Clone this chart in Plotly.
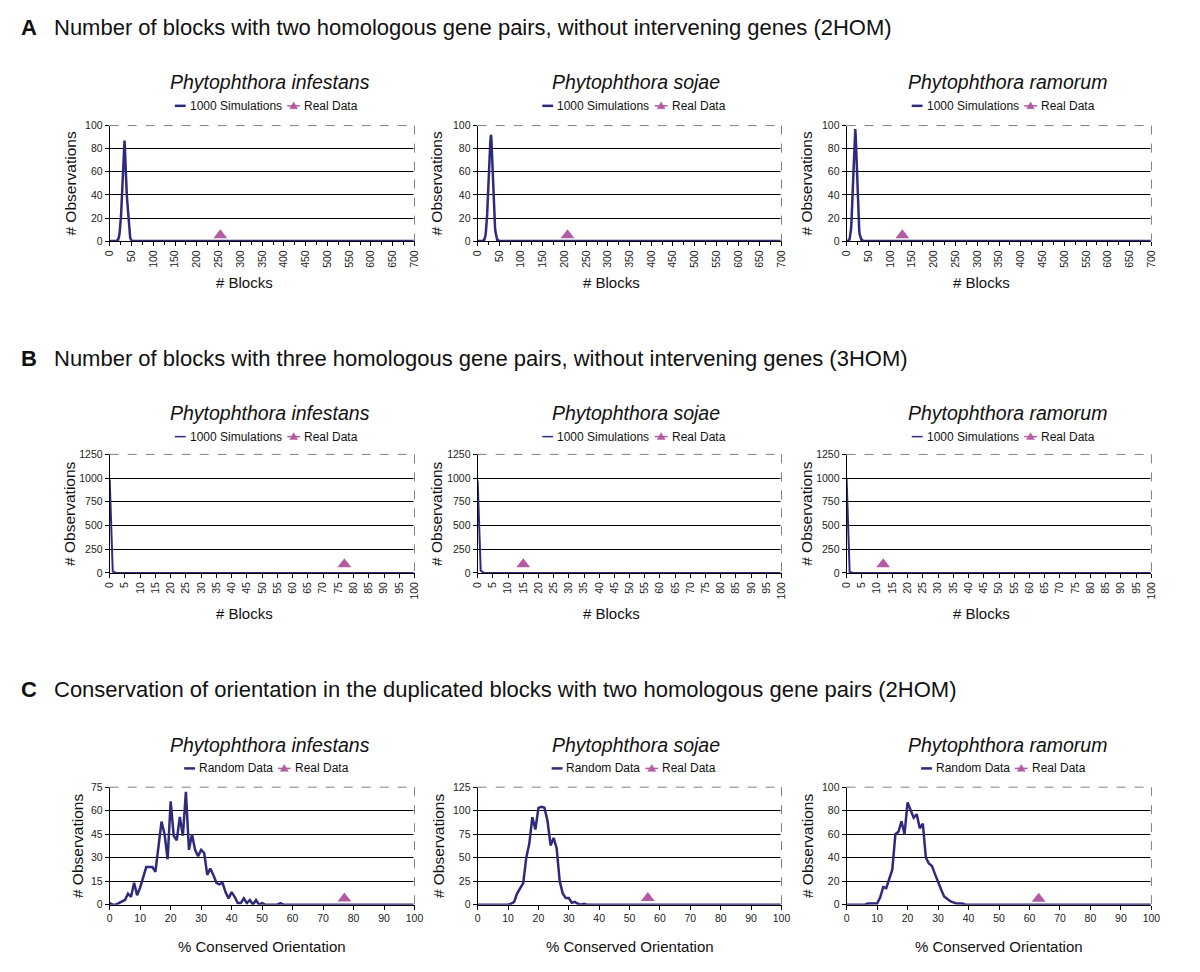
import plotly.graph_objects as go

# page body has an 8px margin; figure is sized so that it fits the 1200x972 window
OFF = 8
W, H = 1200 - 2 * OFF, 972 - 2 * OFF

# ---------------- text ----------------
section_letters = ["A", "B", "C"]
section_titles = [
    "Number of blocks with two homologous gene pairs, without intervening genes (2HOM)",
    "Number of blocks with three homologous gene pairs, without intervening genes (3HOM)",
    "Conservation of orientation in the duplicated blocks with two homologous gene pairs (2HOM)",
]
species = ["Phytophthora infestans", "Phytophthora sojae", "Phytophthora ramorum"]
sim_names = ["1000 Simulations", "1000 Simulations", "Random Data"]
real_name = "Real Data"
x_titles = ["# Blocks", "# Blocks", "% Conserved Orientation"]
y_title = "# Observations"

# ---------------- data ----------------
# A: 2HOM, number of blocks (0..700)
a_blocks = list(range(0, 701))
a_inf_start = 18
a_inf_counts = [1, 1, 2, 3, 5, 8, 11, 16, 22, 30, 38, 47, 57, 66, 75, 82, 87, 80, 65, 52,
                48, 42, 36, 30, 23, 17, 12, 8, 5, 3, 2, 1, 1]
a_soj_start = 14
a_soj_counts = [1, 1, 2, 3, 5, 8, 12, 17, 24, 33, 44, 56, 62, 68, 76, 85, 90, 92, 85, 74,
                62, 50, 40, 31, 23, 17, 12, 8, 5, 3, 2, 1, 1, 1]
a_ram_start = 5
a_ram_counts = [1, 1, 2, 4, 6, 10, 15, 22, 31, 41, 52, 62, 70, 82, 92, 97, 90, 78, 66, 53,
                41, 30, 21, 14, 9, 6, 4, 3, 2, 1, 1, 1]
a_real_x = [254, 207, 128]
a_real_y = [5, 5, 5]

# B: 3HOM, number of blocks (0..100)
b_blocks = list(range(0, 101))
b_inf_counts = [985, 14, 1]
b_soj_counts = [975, 24, 1]
b_ram_counts = [990, 9, 1]
b_real_x = [77, 15, 12]
b_real_y = [90, 90, 90]

# C: % conserved orientation (0..100)
c_pct = list(range(0, 101))
c_inf_counts = [1, 0, 0, 1, 2, 3, 7, 5, 14, 6, 11, 17, 24, 24, 24, 21, 36, 53, 45, 29,
                66, 44, 41, 56, 44, 72, 35, 45, 35, 31, 35, 33, 19, 23, 19, 14, 13, 14, 8, 4,
                8, 5, 1, 1, 4, 1, 3, 0, 3, 0, 1, 0, 0, 0, 0, 0, 1]
c_soj_counts = [0, 0, 0, 0, 0, 0, 0, 0, 0, 0, 0, 1, 3, 12, 17, 23, 50, 65, 93, 80,
                103, 104, 103, 89, 63, 71, 60, 25, 12, 7, 7, 2, 3, 1, 0, 1]
c_ram_counts = [0, 0, 0, 0, 0, 0, 0, 1, 1, 1, 1, 6, 15, 14, 23, 30, 60, 62, 71, 60,
                87, 80, 74, 77, 65, 69, 40, 35, 33, 26, 19, 13, 7, 5, 3, 2, 1, 1, 1]
c_real_x = [77, 56, 63]
c_real_y = [4, 7, 5]

# axis settings
x_ranges = [[0, 700], [0, 100], [0, 100]]
x_dticks = [50, 5, 10]
y_ranges = [[[0, 100]] * 3, [[0, 1250]] * 3, [[0, 75], [0, 125], [0, 100]]]
y_dticks = [[20, 20, 20], [250, 250, 250], [15, 25, 20]]


def pad(cats, start, seg):
    full = [0] * len(cats)
    for i, v in enumerate(seg):
        full[start + i] = v
    return full


sim_x = [a_blocks, b_blocks, c_pct]
sim_y = [
    [pad(a_blocks, a_inf_start, a_inf_counts), pad(a_blocks, a_soj_start, a_soj_counts),
     pad(a_blocks, a_ram_start, a_ram_counts)],
    [pad(b_blocks, 0, b_inf_counts), pad(b_blocks, 0, b_soj_counts), pad(b_blocks, 0, b_ram_counts)],
    [pad(c_pct, 0, c_inf_counts), pad(c_pct, 0, c_soj_counts), pad(c_pct, 0, c_ram_counts)],
]
real_x = [a_real_x, b_real_x, c_real_x]
real_y = [a_real_y, b_real_y, c_real_y]

# ---------------- layout geometry (window pixels) ----------------
cols_px = [(104, 413), (477, 785), (851, 1160)]
rows_px = [(121, 238), (454, 574), (791, 910)]
section_y = [22, 357, 692]
species_y = [77, 412, 748]
legend_y = [101, 436, 772]
xtitle_y = [280, 615, 952]
xtitle_dx = [-18, -18, 0]
ytitle_x = [[64, 435, 810], [63, 435, 810], [72, 438, 812]]
species_x = [266, 638, 1014]
# approximate text widths (px) of legend labels at 12px
label_w = {"1000 Simulations": 93, "Random Data": 74, "Real Data": 53}

SIM_COLOR = "#2E2A7C"
REAL_COLOR = "#B25CA2"
FONT = "Liberation Sans, Arial, sans-serif"


def px_x(p):
    return (p - OFF) / W


def px_y(p):
    return 1 - (p - OFF) / H


fig = go.Figure()
annotations, shapes = [], []
layout = dict(
    width=W, height=H, margin=dict(l=0, r=0, t=0, b=0),
    paper_bgcolor="white", plot_bgcolor="white",
    font=dict(family=FONT, color="#111"), showlegend=False,
)


def hline(x0, x1, y, color, width, dash="solid"):
    shapes.append(dict(type="line", xref="paper", yref="paper",
                       x0=px_x(x0), y0=px_y(y), x1=px_x(x1), y1=px_y(y),
                       line=dict(color=color, width=width, dash=dash), layer="above"))


def text(t, x, y, size, xanchor="left", angle=0, bold=False, italic=False):
    if bold:
        t = "<b>%s</b>" % t
    if italic:
        t = "<i>%s</i>" % t
    annotations.append(dict(text=t, x=px_x(x), y=px_y(y), xref="paper", yref="paper",
                            xanchor=xanchor, yanchor="middle", showarrow=False,
                            textangle=angle, borderpad=0,
                            font=dict(size=size, family=FONT, color="#111")))


for r in range(3):
    text(section_letters[r], 13, section_y[r], 22, bold=True)
    text(section_titles[r], 47, section_y[r], 22)
    for c in range(3):
        k = r * 3 + c + 1
        xa = "xaxis" if k == 1 else "xaxis%d" % k
        ya = "yaxis" if k == 1 else "yaxis%d" % k
        xr = "x" if k == 1 else "x%d" % k
        yr = "y" if k == 1 else "y%d" % k
        x0, x1 = cols_px[c]
        y0, y1 = rows_px[r]
        layout[xa] = dict(
            domain=[px_x(x0), px_x(x1)], anchor=yr, range=x_ranges[r],
            tickmode="linear", tick0=0, dtick=x_dticks[r],
            tickangle=-90 if r < 2 else 0,
            ticks="outside", ticklen=4, tickcolor="black",
            showline=True, linecolor="black", linewidth=1,
            showgrid=False, zeroline=False,
            tickfont=dict(size=10.5, family=FONT, color="#222"),
        )
        if r == 0:
            layout[xa]["minor"] = dict(ticks="outside", dtick=25, ticklen=3, tickcolor="black")
        layout[ya] = dict(
            domain=[px_y(y1), px_y(y0)], anchor=xr, range=y_ranges[r][c],
            tickmode="linear", tick0=0, dtick=y_dticks[r][c], tickformat="d",
            ticks="outside", ticklen=4, tickcolor="black",
            showline=True, linecolor="black", linewidth=1,
            showgrid=True, gridcolor="black", gridwidth=1, zeroline=False,
            tickfont=dict(size=10.5, family=FONT, color="#222"),
        )
        # traces
        fig.add_trace(go.Scatter(
            x=sim_x[r], y=sim_y[r][c], mode="lines", name=sim_names[r],
            line=dict(color=SIM_COLOR, width=2.5 if r != 1 else 2),
            xaxis=xr, yaxis=yr, cliponaxis=False))
        fig.add_trace(go.Scatter(
            x=[real_x[r][c]], y=[real_y[r][c]], mode="lines+markers", name=real_name,
            line=dict(color=REAL_COLOR, width=1.5),
            marker=dict(symbol="triangle-up", size=12, color=REAL_COLOR),
            xaxis=xr, yaxis=yr, cliponaxis=False))
        # top and right dashed border of plot area
        for (sx0, sy0, sx1, sy1) in [(x0, y0, x1, y0), (x1, y0, x1, y1)]:
            for col, wd, dash in [("white", 2, "solid"), ("#808080", 1, "dash")]:
                shapes.append(dict(
                    type="line", xref="paper", yref="paper",
                    x0=px_x(sx0), y0=px_y(sy0), x1=px_x(sx1), y1=px_y(sy1),
                    line=dict(color=col, width=wd, dash=dash), layer="above"))
        # species title
        text(species[c], species_x[c], species_y[r], 19.5, xanchor="center", italic=True)
        # legend (drawn manually, Excel style)
        ly = legend_y[r]
        w1, w2 = label_w[sim_names[r]], label_w[real_name]
        total = 11 + 3 + w1 + 7 + 13 + 3 + w2
        lx = (x0 + x1) / 2 + 3 - total / 2
        hline(lx, lx + 11, ly, SIM_COLOR, 2.5 if r != 1 else 1.5)
        text(sim_names[r], lx + 14, ly, 12)
        mx = lx + 14 + w1 + 7
        hline(mx, mx + 13, ly, REAL_COLOR, 1.5)
        cx = mx + 6.5
        shapes.append(dict(
            type="path", xref="paper", yref="paper", layer="above",
            path="M %f,%f L %f,%f L %f,%f Z" % (
                px_x(cx - 4), px_y(ly + 3), px_x(cx + 4), px_y(ly + 3), px_x(cx), px_y(ly - 4)),
            fillcolor=REAL_COLOR, line=dict(color=REAL_COLOR, width=0.5)))
        text(real_name, mx + 16, ly, 12)
        # axis titles
        text(x_titles[r], (x0 + x1) / 2 + xtitle_dx[r], xtitle_y[r], 15, xanchor="center")
        text(y_title, ytitle_x[r][c], (y0 + y1) / 2, 15.5, xanchor="center", angle=-90)

layout["annotations"] = annotations
layout["shapes"] = shapes
fig.update_layout(**layout)
fig.write_html("out.html")
